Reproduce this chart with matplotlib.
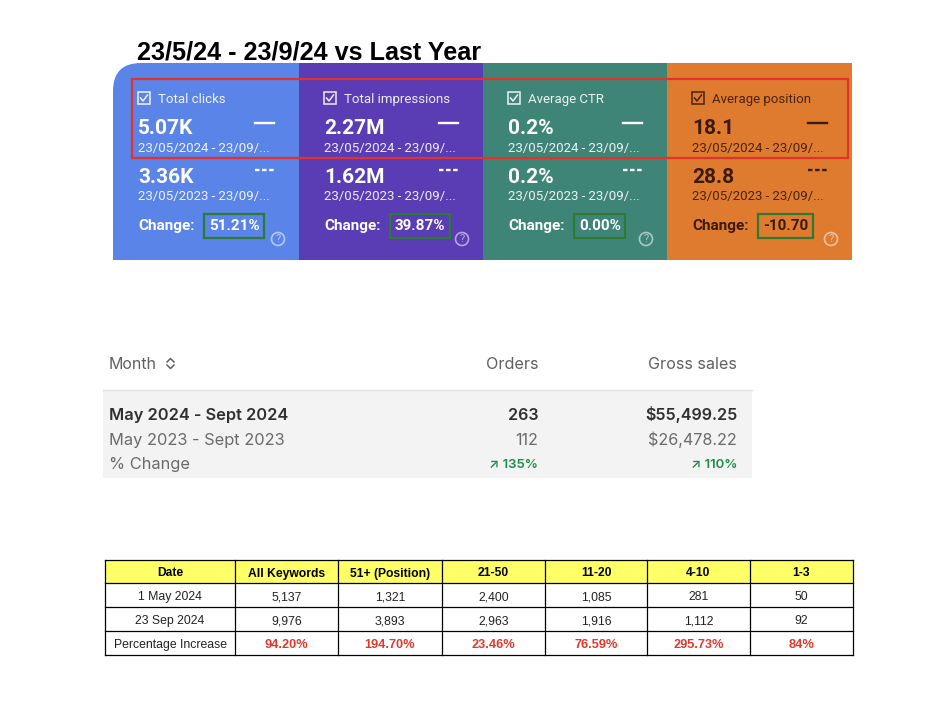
"""
Search Console + sales + keyword table summary, rebuilt as one matplotlib figure.
"""

import matplotlib

matplotlib.use("Agg")
import matplotlib.pyplot as plt
from matplotlib.patches import Circle, PathPatch, Rectangle
from matplotlib.path import Path

# ---- data ----
title = "23/5/24 - 23/9/24 vs Last Year"

metric_names = ["Total clicks", "Total impressions", "Average CTR", "Average position"]
metric_now = ["5.07K", "2.27M", "0.2%", "18.1"]
metric_prev = ["3.36K", "1.62M", "0.2%", "28.8"]
metric_change = ["51.21%", "39.87%", "0.00%", "-10.70"]
range_now = "23/05/2024 - 23/09/..."
range_prev = "23/05/2023 - 23/09/..."

sales_cols = ["Orders", "Gross sales"]
sales_rows = ["May 2024 - Sept 2024", "May 2023 - Sept 2023", "% Change"]
orders = ["263", "112", "135%"]
gross_sales = ["$55,499.25", "$26,478.22", "110%"]

kw_header = ["Date", "All Keywords", "51+ (Position)", "21-50", "11-20", "4-10", "1-3"]
kw_may = ["1 May 2024", "5,137", "1,321", "2,400", "1,085", "281", "50"]
kw_sep = ["23 Sep 2024", "9,976", "3,893", "2,963", "1,916", "1,112", "92"]
kw_pct = ["Percentage Increase", "94.20%", "194.70%", "23.46%", "76.59%", "295.73%", "84%"]

# ---- style ----
col_colors = ["#5b84e8", "#5a3cb5", "#3f8577", "#df7b2f"]
col_text = ["white", "white", "white", "#3a1a08"]
col_edges = [113, 299, 483, 667, 852]
panel_top, panel_bot = 63, 260

fig = plt.figure(figsize=(9.3, 7.21), dpi=100)
ax = fig.add_axes([0, 0, 1, 1])
ax.set_xlim(0, 930)
ax.set_ylim(721, 0)
ax.axis("off")

RB = "Roboto"
ax.text(137, 59, title, fontsize=18.2, fontweight="bold", family="Liberation Sans",
        va="baseline", ha="left", color="black")

# panel columns (first one has a rounded top-left corner)
for i, c in enumerate(col_colors):
    x0, x1 = col_edges[i], col_edges[i + 1]
    if i == 0:
        r = 28
        verts = [(x0, panel_bot), (x0, panel_top + r), (x0, panel_top),
                 (x0 + r, panel_top), (x1, panel_top), (x1, panel_bot), (x0, panel_bot)]
        codes = [Path.MOVETO, Path.LINETO, Path.CURVE3, Path.CURVE3,
                 Path.LINETO, Path.LINETO, Path.CLOSEPOLY]
        ax.add_patch(PathPatch(Path(verts, codes), fc=c, ec="none"))
    else:
        ax.add_patch(Rectangle((x0, panel_top), x1 - x0, panel_bot - panel_top,
                               fc=c, ec="none"))

for i, name in enumerate(metric_names):
    x0, x1 = col_edges[i], col_edges[i + 1]
    tx = x0 + 25
    tc = col_text[i]
    # checkbox
    ax.add_patch(Rectangle((tx, 92), 12, 12, fc="none", ec=tc, lw=1.1, alpha=0.9))
    ax.plot([tx + 2.5, tx + 5, tx + 9.5], [98, 101, 95], color=tc, lw=1.1, alpha=0.9)
    ax.text(tx + 20, 103, name, fontsize=9.5, family=RB, color=tc, alpha=0.9,
            va="baseline")
    # current period
    ax.text(tx, 134, metric_now[i], fontsize=15, family=RB, fontweight="bold",
            color=tc, va="baseline")
    ax.plot([x1 - 44, x1 - 25], [123, 123], color=tc, lw=1.7)
    ax.text(tx, 152, range_now, fontsize=9.5, family=RB, color=tc, alpha=0.9,
            va="baseline")
    # previous period
    ax.text(tx, 183, metric_prev[i], fontsize=15, family=RB, fontweight="bold",
            color=tc, va="baseline")
    ax.plot([x1 - 44, x1 - 25], [170, 170], color=tc, lw=1.7, ls=(0, (1.9, 1.1)))
    ax.text(tx, 200, range_prev, fontsize=9.5, family=RB, color=tc, alpha=0.9,
            va="baseline")
    # change
    ax.text(tx, 230, "Change:", fontsize=11, family=RB, fontweight="bold",
            color=tc, va="baseline")
    ax.text(tx + 71, 230, metric_change[i], fontsize=11, family=RB,
            fontweight="bold", color=tc, va="baseline",
            bbox=dict(boxstyle="square,pad=0.3", fc="none", ec="#2f7a33", lw=1.6))
    ax.add_patch(Circle((x1 - 21, 239), 6.5, fc="none", ec="white", lw=1.2,
                        alpha=0.55))
    ax.text(x1 - 21, 239.5, "?", fontsize=8, family=RB, color="white", alpha=0.55,
            ha="center", va="center")

# red highlight frame
ax.add_patch(Rectangle((132, 79), 848 - 132, 158 - 79, fc="none", ec="#e3322c",
                       lw=1.6))

# ---- sales summary ----
IN = ["Inter", "DejaVu Sans"]
ax.add_patch(Rectangle((103, 390), 752 - 103, 478 - 390, fc="#f3f3f3", ec="none"))
ax.plot([103, 752], [390, 390], color="#e2e2e2", lw=1)
ax.text(109, 369, "Month", fontsize=11.5, family=IN, color="#606060", va="baseline")
ax.plot([167, 170.5, 174], [362, 358.5, 362], color="#606060", lw=1.1)
ax.plot([167, 170.5, 174], [365, 368.5, 365], color="#606060", lw=1.1)
col_right = [538, 737]
for j, name in enumerate(sales_cols):
    ax.text(col_right[j], 369, name, fontsize=11.6, family=IN, color="#606060",
            ha="right", va="baseline")

row_base = [420, 445, 469]
row_color = ["#2f2f2f", "#6a6a6a", "#6a6a6a"]
for k, label in enumerate(sales_rows):
    fw = "semibold" if k == 0 else "normal"
    ax.text(109, row_base[k], label, fontsize=11.8, family=IN, color=row_color[k],
            fontweight=fw, va="baseline")
for j, vals in enumerate([orders, gross_sales]):
    for k in range(2):
        fw = "semibold" if k == 0 else "normal"
        ax.text(col_right[j], row_base[k], vals[k], fontsize=11.6, family=IN,
                color=row_color[k], fontweight=fw, ha="right", va="baseline")
    ax.text(col_right[j], row_base[2] - 1, "\u2197 " + vals[2], fontsize=9.5,
            family=IN, color="#1d8a4e", fontweight="semibold", ha="right",
            va="baseline")

# ---- keyword table ----
LS = "Liberation Sans"
xs = [105, 235, 338, 442, 545, 647, 750, 853]
ys = [560, 583, 607, 631, 655]
ax.add_patch(Rectangle((xs[0], ys[0]), xs[-1] - xs[0], ys[1] - ys[0], fc="#ffff66",
                       ec="none"))
for x in xs:
    ax.plot([x, x], [ys[0], ys[-1]], color="black", lw=0.9)
for y in ys:
    ax.plot([xs[0], xs[-1]], [y, y], color="black", lw=0.9)

for r, row in enumerate([kw_header, kw_may, kw_sep, kw_pct]):
    yc = (ys[r] + ys[r + 1]) / 2
    for c, val in enumerate(row):
        xc = (xs[c] + xs[c + 1]) / 2
        if r == 0:
            kw = dict(fontweight="bold", color="black", fontsize=8.7)
        elif r == 3 and c > 0:
            kw = dict(fontweight="bold", color="#e0392d", fontsize=9.2)
        else:
            kw = dict(color="#222222", fontsize=8.8)
        ax.text(xc, yc + 2, val, family=LS, ha="center", va="center", **kw)

fig.savefig("out.png", dpi=100)
